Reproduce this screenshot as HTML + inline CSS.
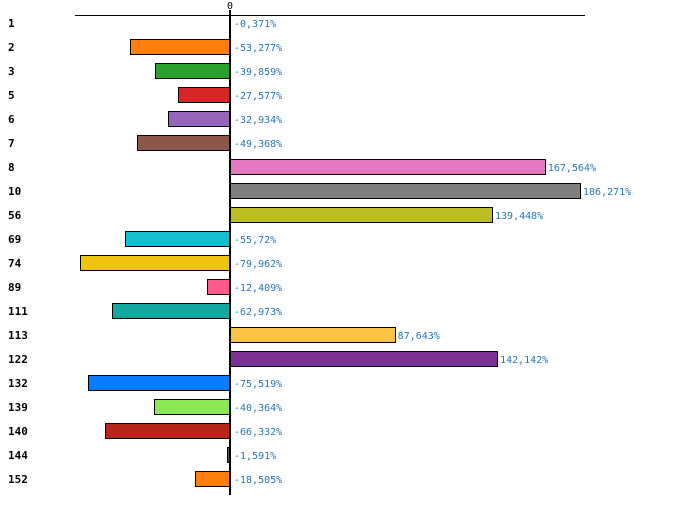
<!DOCTYPE html>
<html><head><meta charset="utf-8"><style>
body{margin:0;background:#fff;width:700px;height:525px;overflow:hidden}
svg text{font-family:"DejaVu Sans Mono","Liberation Mono",monospace}
</style></head><body>
<svg id="chart" width="700" height="525" xmlns="http://www.w3.org/2000/svg"></svg>
<script>
const categories=["1","2","3","5","6","7","8","10","56","69","74","89","111","113","122","132","139","140","144","152"];
const values=[-0.371,-53.277,-39.859,-27.577,-32.934,-49.368,167.564,186.271,139.448,-55.72,-79.962,-12.409,-62.973,87.643,142.142,-75.519,-40.364,-66.332,-1.591,-18.505];
const labels=["-0,371%","-53,277%","-39,859%","-27,577%","-32,934%","-49,368%","167,564%","186,271%","139,448%","-55,72%","-79,962%","-12,409%","-62,973%","87,643%","142,142%","-75,519%","-40,364%","-66,332%","-1,591%","-18,505%"];
const colors=["#1f77b4","#ff7f0e","#2ca02c","#d62728","#9467bd","#8c564b","#e377c2","#7f7f7f","#bcbd22","#17becf","#f0c30f","#ff5b8f","#14a8a0","#fcc245","#7b3294","#0a7cff","#8ee852","#b8281a","#555555","#ff7f0e"];
const svg=document.getElementById('chart');
const NS='http://www.w3.org/2000/svg';
const xs=v=>230+v*1.879;
const ys=i=>23+i*24;
function mk(t,a){const e=document.createElementNS(NS,t);for(const k in a)e.setAttribute(k,a[k]);svg.appendChild(e);return e;}
const topLine=mk('line',{x1:75,y1:15.5,x2:585,y2:15.5,stroke:'#000','stroke-width':1});


const zl=mk('text',{x:230,y:9,'font-size':10,'text-anchor':'middle',fill:'#000'});zl.textContent='0';


categories.forEach((c,i)=>{
  const v=values[i],x0=Math.round(Math.min(xs(0),xs(v)))+0.5,w=Math.round(Math.abs(xs(v)-xs(0)));
  const r=mk('rect',{x:x0,y:ys(i)-7.5,width:w,height:15,fill:colors[i],stroke:'#000','stroke-width':1});
  
  
  const t=mk('text',{x:8,y:ys(i)+4,'font-size':11,'font-weight':'bold',fill:'#000'});t.textContent=c;
  
  
  const lx=v>=0?xs(v)+3:xs(0)+4;
  const l=mk('text',{x:lx,y:ys(i)+4,'font-size':10,fill:'#1f77b4'});l.textContent=labels[i];
  
  
});
const ax=mk('line',{x1:230,y1:10,x2:230,y2:495,stroke:'#000','stroke-width':2});


</script>
</body></html>
